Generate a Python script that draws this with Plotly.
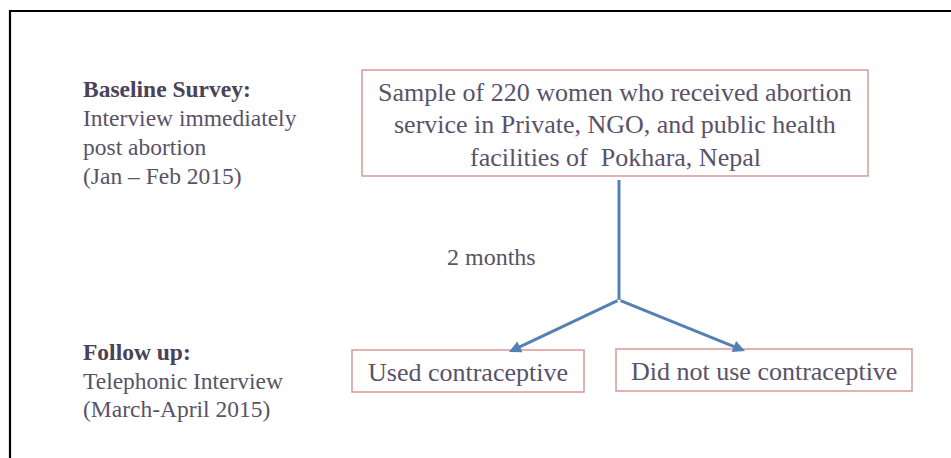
import plotly.graph_objects as go

# ---- content ----
baseline_lines = ["<b>Baseline Survey:</b>", "Interview immediately", "post abortion", "(Jan \u2013 Feb 2015)"]
followup_lines = ["<b>Follow up:</b>", "Telephonic Interview", "(March-April 2015)"]
sample_lines = ["Sample of 220 women who received abortion",
                "service in Private, NGO, and public health",
                "facilities of  Pokhara, Nepal"]
interval_label = "2 months"
outcome_labels = ["Used contraceptive", "Did not use contraceptive"]

# ---- styles ----
W, H = 951, 458
TEXT = "#595269"
BOLD = "#4a4358"
BOX = "#d9999a"
ARROW = "#5580b3"
FONT = "Liberation Serif"

fig = go.Figure()
shapes = []
annotations = []

# outer frame (open at right/bottom, cropped)
shapes.append(dict(type="path", path="M 10 470 L 10 11 L 960 11",
                   line=dict(color="black", width=2.2), xref="x", yref="y"))

# top box
top_box = dict(x0=362, x1=868, y0=70, y1=176)
shapes.append(dict(type="rect", **top_box, line=dict(color=BOX, width=1.5)))
cx = (top_box["x0"] + top_box["x1"]) / 2
for i, t in enumerate(sample_lines):
    annotations.append(dict(x=cx, y=92 + i * 32.5, text=t, showarrow=False,
                            xanchor="center", yanchor="middle",
                            font=dict(family=FONT, size=26, color=TEXT)))

# outcome boxes
out_boxes = [dict(x0=352, x1=584, y0=350, y1=392), dict(x0=616, x1=912, y0=349, y1=391)]
for b, t in zip(out_boxes, outcome_labels):
    shapes.append(dict(type="rect", **b, line=dict(color=BOX, width=1.5)))
    annotations.append(dict(x=(b["x0"] + b["x1"]) / 2, y=(b["y0"] + b["y1"]) / 2 + 1, text=t,
                            showarrow=False, xanchor="center", yanchor="middle",
                            font=dict(family=FONT, size=26, color=TEXT)))

# connector: vertical stem and two arrows
jx, jy = 619, 300
shapes.append(dict(type="line", x0=jx, x1=jx, y0=180, y1=jy, line=dict(color=ARROW, width=3)))
for tip in [(509, 352), (745, 351)]:
    annotations.append(dict(x=tip[0], y=tip[1], ax=jx, ay=jy, xref="x", yref="y",
                            axref="x", ayref="y", text="", showarrow=True,
                            arrowhead=2, arrowsize=0.8, arrowwidth=3, arrowcolor=ARROW,
                            standoff=0, startstandoff=0))

# interval label
annotations.append(dict(x=445, y=257, text=interval_label, showarrow=False,
                        xanchor="left", yanchor="middle",
                        font=dict(family=FONT, size=24, color=TEXT)))

# left side labels
for i, t in enumerate(baseline_lines):
    annotations.append(dict(x=81, y=89 + i * 29, text=t, showarrow=False,
                            xanchor="left", yanchor="middle",
                            font=dict(family=FONT, size=23.5, color=BOLD if i == 0 else TEXT)))
for i, t in enumerate(followup_lines):
    annotations.append(dict(x=81, y=352 + i * 28.5, text=t, showarrow=False,
                            xanchor="left", yanchor="middle",
                            font=dict(family=FONT, size=23.5, color=BOLD if i == 0 else TEXT)))

fig.update_layout(
    width=W, height=H, margin=dict(l=0, r=0, t=0, b=0),
    paper_bgcolor="white", plot_bgcolor="white",
    xaxis=dict(range=[0, W], visible=False, fixedrange=True),
    yaxis=dict(range=[H, 0], visible=False, fixedrange=True),
    shapes=shapes, annotations=annotations, showlegend=False,
)

fig.write_html("out.html", config={"displayModeBar": False})

# remove the browser's default page margin so the figure sits at the window origin
with open("out.html", encoding="utf-8") as f:
    html = f.read()
html = html.replace("<head>", "<head><style>html,body{margin:0;padding:0;overflow:hidden;}</style>", 1)
with open("out.html", "w", encoding="utf-8") as f:
    f.write(html)
